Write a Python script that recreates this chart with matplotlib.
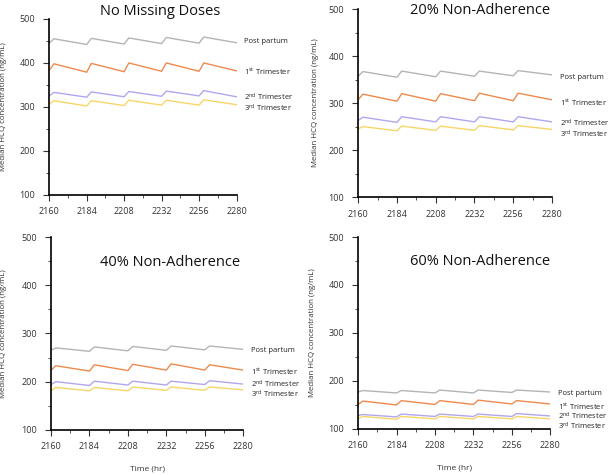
import matplotlib
matplotlib.use('Agg')
import matplotlib.pyplot as plt
from matplotlib.ticker import MultipleLocator

plt.rcParams['font.family'] = ['Open Sans', 'DejaVu Sans']
plt.rcParams['mathtext.default'] = 'regular'

# Time points (hr): dose given every 24 h, peak ~3 h later
time_hr = [2160, 2163, 2184, 2187, 2208, 2211, 2232, 2235, 2256, 2259, 2280]

series_names = ['Post partum', '1$^{st}$ Trimester', '2$^{nd}$ Trimester', '3$^{rd}$ Trimester']
series_colors = ['#b4b4b4', '#ee8a4e', '#b3a6ee', '#f7d667']

# Median HCQ concentration (ng/mL)
no_missing = [
    [445, 455, 442, 456, 443, 457, 444, 458, 445, 459, 446],
    [383, 398, 379, 399, 380, 400, 381, 400, 381, 400, 382],
    [325, 333, 322, 334, 323, 335, 324, 336, 325, 337, 323],
    [306, 314, 302, 314, 303, 315, 304, 315, 304, 316, 305],
]
nonadh_20 = [
    [357, 367, 355, 368, 356, 368, 357, 368, 358, 369, 360],
    [307, 319, 304, 320, 304, 320, 305, 321, 305, 321, 307],
    [263, 270, 259, 271, 260, 271, 260, 271, 260, 271, 260],
    [245, 250, 241, 251, 242, 251, 242, 252, 243, 252, 244],
]
nonadh_40 = [
    [265, 270, 263, 272, 264, 273, 265, 274, 266, 274, 267],
    [224, 233, 222, 235, 223, 236, 224, 237, 224, 235, 224],
    [194, 200, 192, 201, 193, 201, 193, 201, 194, 202, 195],
    [181, 188, 181, 188, 181, 189, 182, 189, 182, 189, 183],
]
nonadh_60 = [
    [177, 180, 175, 180, 175, 181, 175, 181, 176, 181, 177],
    [151, 158, 150, 159, 151, 159, 151, 160, 152, 159, 152],
    [128, 130, 125, 131, 126, 131, 126, 131, 126, 132, 127],
    [122, 126, 120, 126, 121, 126, 121, 126, 121, 126, 121],
]

panel_titles = ['No Missing Doses', '20% Non-Adherence', '40% Non-Adherence', '60% Non-Adherence']
panel_data = [no_missing, nonadh_20, nonadh_40, nonadh_60]

# layout (figure fractions) and text placement for each panel
axes_rects = [
    [0.081, 0.590, 0.308, 0.370],
    [0.589, 0.585, 0.319, 0.396],
    [0.084, 0.095, 0.316, 0.406],
    [0.589, 0.097, 0.316, 0.404],
]
title_pos = [(0.59, 1.045), (0.63, 0.99), (0.62, 0.87), (0.635, 0.87)]
ylabel_x = [-0.225, -0.2, -0.23, -0.22]
label_y = [
    [448, 380, 322, 296],
    [355, 300, 257, 233],
    [264, 220, 195, 174],
    [174, 147, 126, 105],
]

fig = plt.figure(figsize=(6.08, 4.75), dpi=100)

for i in range(4):
    ax = fig.add_axes(axes_rects[i])
    for j in range(4):
        ax.plot(time_hr, panel_data[i][j], color=series_colors[j], lw=1.0)
        ax.text(2285, label_y[i][j], series_names[j], fontsize=5.5,
                va='center', ha='left', color='#222222', clip_on=False)
    ax.set_xlim(2160, 2280)
    ax.set_ylim(100, 500)
    ax.xaxis.set_major_locator(MultipleLocator(24))
    ax.xaxis.set_minor_locator(MultipleLocator(12))
    ax.yaxis.set_major_locator(MultipleLocator(100))
    ax.yaxis.set_minor_locator(MultipleLocator(50))
    ax.spines['top'].set_visible(False)
    ax.spines['right'].set_visible(False)
    ax.spines['left'].set_linewidth(1.2)
    ax.spines['bottom'].set_linewidth(1.2)
    ax.tick_params(which='major', length=4, width=0.8, labelsize=6.5, colors='#333333')
    ax.tick_params(which='minor', length=2.5, width=0.6, colors='#333333')
    ax.tick_params(axis='x', pad=5)
    ax.tick_params(axis='y', pad=6)
    ax.set_ylabel('Median HCQ concentration (ng/mL)', fontsize=5.7, color='#333333')
    ax.yaxis.set_label_coords(ylabel_x[i], 0.5)
    ax.text(title_pos[i][0], title_pos[i][1], panel_titles[i], transform=ax.transAxes,
            ha='center', va='center', fontsize=10.5, color='#111111')
    if i >= 2:
        ax.set_xlabel('Time (hr)', fontsize=6, color='#333333', labelpad=10)

plt.savefig('out.png', dpi=100)
